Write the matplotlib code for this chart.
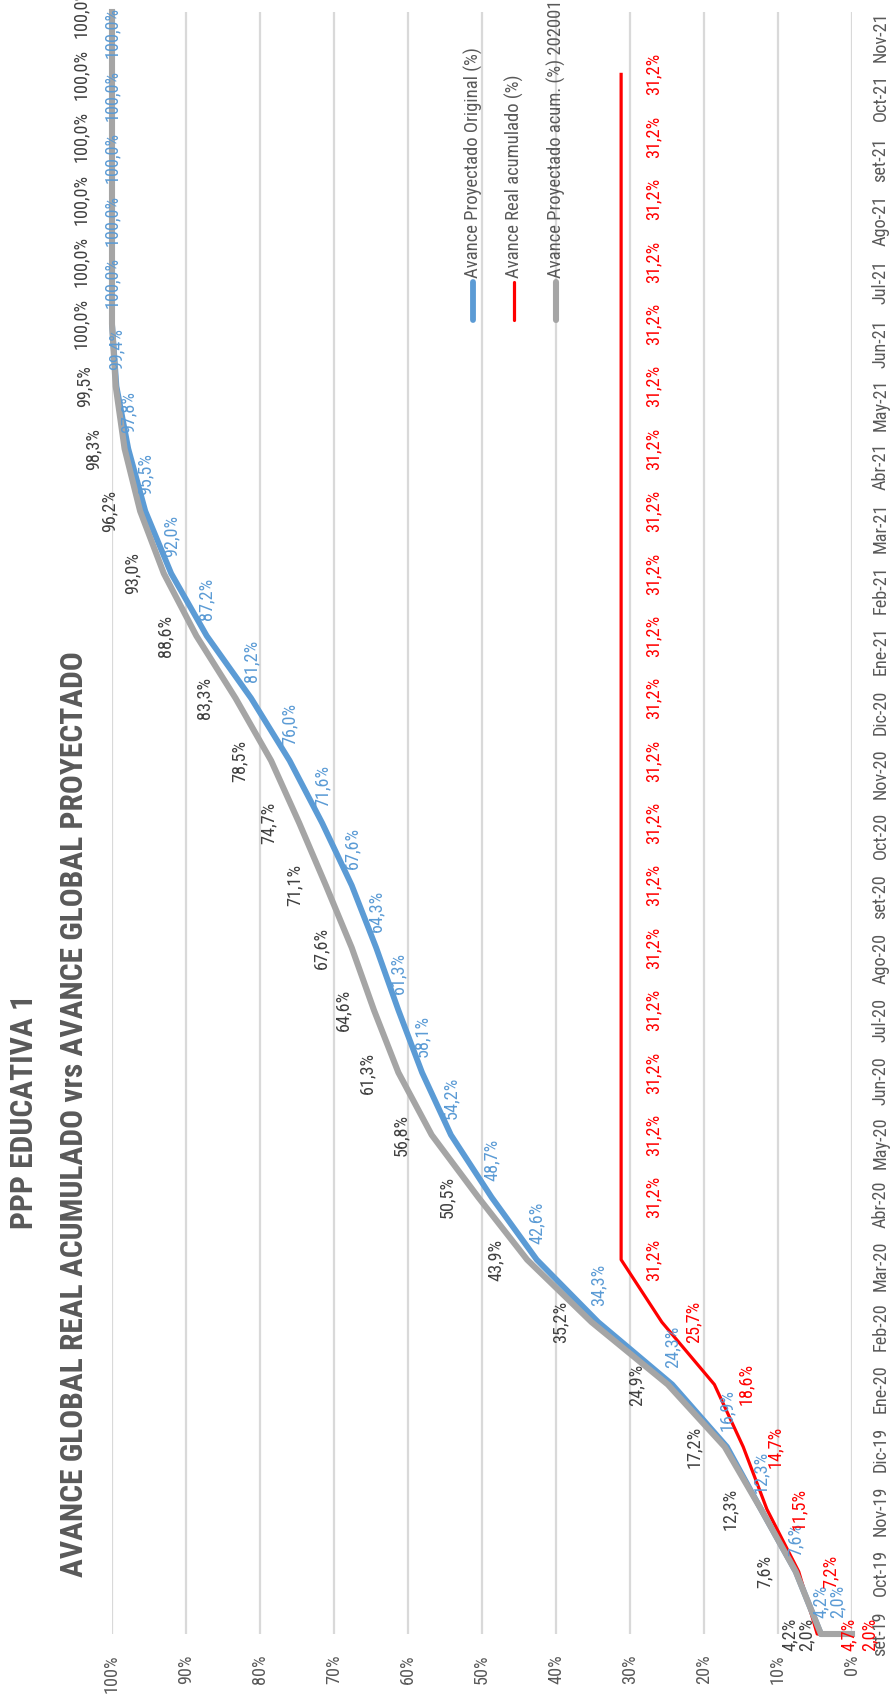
import matplotlib
matplotlib.use('Agg')
import matplotlib.pyplot as plt
from matplotlib import font_manager
from matplotlib.lines import Line2D
import numpy as np

names = {f.name for f in font_manager.fontManager.ttflist}
FONT = 'DejaVu Sans'
for cand in ['Liberation Sans Narrow', 'Arial Narrow', 'Roboto Condensed',
             'Liberation Sans']:
    if cand in names:
        FONT = cand
        break
plt.rcParams['font.family'] = [FONT, 'DejaVu Sans']
NARROW = 'Narrow' in FONT or 'Condensed' in FONT
SCALE = 1.22 if NARROW else 1.0

# ---------------- data ----------------
months = ['set-19', 'Oct-19', 'Nov-19', 'Dic-19', 'Ene-20', 'Feb-20', 'Mar-20',
          'Abr-20', 'May-20', 'Jun-20', 'Jul-20', 'Ago-20', 'set-20', 'Oct-20',
          'Nov-20', 'Dic-20', 'Ene-21', 'Feb-21', 'Mar-21', 'Abr-21', 'May-21',
          'Jun-21', 'Jul-21', 'Ago-21', 'set-21', 'Oct-21', 'Nov-21']
pct_ticks = list(range(0, 101, 10))

# values recorded at the first month (set-19), then one per month from Oct-19
blue_first = [2.0, 4.2]
blue_rest = [7.6, 12.3, 16.9, 24.3, 34.3, 42.6, 48.7, 54.2, 58.1, 61.3, 64.3,
             67.6, 71.6, 76.0, 81.2, 87.2, 92.0, 95.5, 97.8, 99.4,
             100.0, 100.0, 100.0, 100.0, 100.0, 100.0]
red_first = [2.0, 4.7]
red_rest = [7.2, 11.5, 14.7, 18.6, 25.7] + [31.2] * 20
gray_first = [0.0, 2.0, 4.2]
gray_rest = [7.6, 12.3, 17.2, 24.9, 35.2, 43.9, 50.5, 56.8, 61.3, 64.6, 67.6,
             71.1, 74.7, 78.5, 83.3, 88.6, 93.0, 96.2, 98.3, 99.5,
             100.0, 100.0, 100.0, 100.0, 100.0, 100.0]

legend_names = ['Avance Proyectado Original (%)', 'Avance Real acumulado (%)',
                'Avance Proyectado acum. (%) 202001']

BLUE = '#5B9BD5'
RED = '#FF0000'
GRAY = '#A5A5A5'
TXT = '#595959'

FS = 10.8 * SCALE      # small text
FS_LEG = 11.0 * SCALE
FS_TITLE = 18.6 * SCALE


def series(first, rest):
    idx = [0] * len(first) + list(range(1, len(rest) + 1))
    return np.array(idx, dtype=float), np.array(first + rest)


def fmt(v):
    return f"{v:.1f}".replace('.', ',') + '%'


W, H = 893, 1701
fig = plt.figure(figsize=(W / 100, H / 100), dpi=100)
PX = 0.72  # points per pixel

ax = fig.add_axes([112 / W, 1 - 1634 / H, (852 - 112) / W, (1634 - 12) / H])
ax.set_xlim(100, 0)
ax.set_ylim(0, len(months) - 1)

for s in ax.spines.values():
    s.set_visible(False)

ax.set_xticks(pct_ticks)
ax.set_xticklabels([f"{t}%" for t in pct_ticks])
ax.grid(axis='x', color='#D9D9D9', linewidth=1.6)
ax.set_axisbelow(True)
ax.tick_params(axis='x', length=0, pad=15, labelsize=FS, labelcolor=TXT,
               labelrotation=90)

ax.yaxis.tick_right()
ax.set_yticks(np.arange(len(months)) * 0.985)
ax.set_yticklabels(months)
ax.tick_params(axis='y', length=0, pad=14, labelsize=FS, labelcolor=TXT,
               labelrotation=90)
for lab in ax.get_yticklabels():
    lab.set_va('center')
    lab.set_ha('left')

# lines
bx, bv = series(blue_first, blue_rest)
rx, rv = series(red_first, red_rest)
gx, gv = series(gray_first, gray_rest)

ax.plot(bv, bx, color=BLUE, lw=4.2, zorder=2, clip_on=False,
        solid_joinstyle='round')
ax.plot(rv, rx, color=RED, lw=2.3, zorder=3, clip_on=False,
        solid_joinstyle='round')
ax.plot(gv, gx, color=GRAY, lw=4.4, zorder=4, clip_on=False,
        solid_joinstyle='round')

# data labels
for v, y in zip(bv, bx):
    ax.annotate(fmt(v), (v, y), xytext=(0, 16 * PX), textcoords='offset points',
                rotation=90, ha='center', va='bottom', fontsize=FS,
                color=BLUE, zorder=6)
for v, y in zip(rv, rx):
    ax.annotate(fmt(v), (v, y), xytext=(32 * PX, 0), textcoords='offset points',
                rotation=90, ha='center', va='center', fontsize=FS,
                color=RED, zorder=6)
for v, y in zip(gv, gx):
    if v == 0:
        continue
    ax.annotate(fmt(v), (v, y), xytext=(-31 * PX, 0), textcoords='offset points',
                rotation=90, ha='center', va='center', fontsize=FS,
                color='#404040', zorder=6)

# legend (rotated)
leg_x = [473, 514, 556]
leg_c = [BLUE, RED, GRAY]
leg_w = [4.2, 2.3, 4.4]
for x, c, w, name in zip(leg_x, leg_c, leg_w, legend_names):
    fig.add_artist(Line2D([x / W, x / W], [1 - 282 / H, 1 - 320 / H],
                          transform=fig.transFigure, color=c, lw=w,
                          solid_capstyle='round'))
    fig.text(x / W, 1 - 278 / H, name, rotation=90, rotation_mode='anchor',
             ha='left', va='center', fontsize=FS_LEG, color=TXT)

# titles
fig.text(24 / W, 1 - 1112 / H, 'PPP EDUCATIVA 1', rotation=90,
         ha='center', va='center', fontsize=FS_TITLE, fontweight='bold',
         color=TXT)
fig.text(74 / W, 1 - 1114 / H,
         'AVANCE GLOBAL REAL ACUMULADO vrs AVANCE GLOBAL PROYECTADO',
         rotation=90, ha='center', va='center', fontsize=FS_TITLE,
         fontweight='bold', color=TXT)

fig.savefig('out.png', dpi=100)
